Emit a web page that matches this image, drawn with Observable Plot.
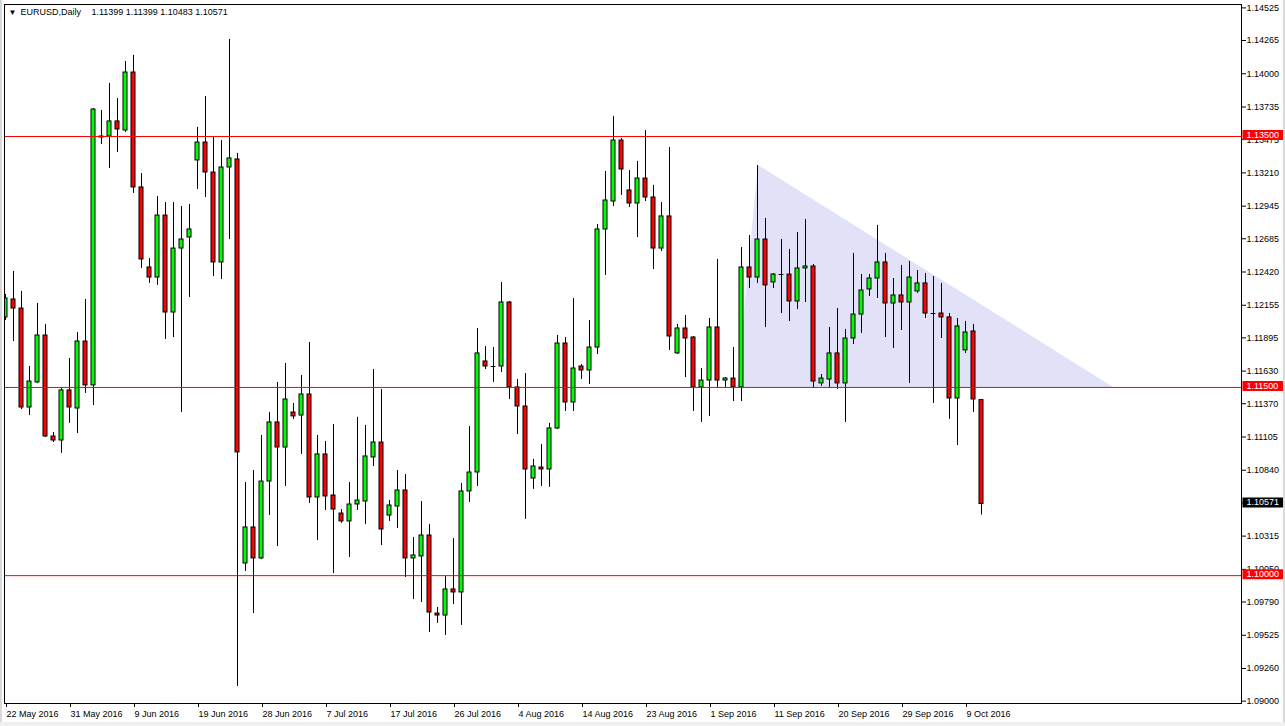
<!DOCTYPE html>
<html><head><meta charset="utf-8">
<script src="https://cdn.jsdelivr.net/npm/d3@7"></script>
<script src="https://cdn.jsdelivr.net/npm/@observablehq/plot@0.6"></script>
<style>
html,body{margin:0;padding:0;background:#fff;}
#wrap{position:relative;width:1285px;height:726px;overflow:hidden;}
.edgeL{position:absolute;left:0;top:0;width:2px;height:726px;background:#d9d9d9;}
.edgeR{position:absolute;right:0;top:0;width:2px;height:726px;background:#d9d9d9;}
.edgeB{position:absolute;left:0;bottom:0;width:1285px;height:4px;background:#f0f0f0;}
</style></head><body><div id="wrap"></div>
<script>
const symbolName = "EURUSD";
const timeframe = "Daily";

// Daily bars, one per trading day (incl. Sunday bars), starting 22 May 2016
const open = [
1.12058,1.12201,1.12129,1.11340,1.11540,1.11914,1.11109,1.11077,1.11476,1.11332,
1.11866,1.11516,1.13492,1.13500,1.13620,1.13548,1.14010,1.13094,1.12456,1.12376,
1.12870,1.12097,1.12607,1.12695,1.13309,1.13452,1.13213,1.12496,1.13253,1.13317,
1.10097,1.10384,1.10137,1.10750,1.11221,1.11021,1.11300,1.11276,1.11444,1.10623,
1.10966,1.10639,1.10495,1.10432,1.10567,1.10591,1.10942,1.11061,1.10479,1.10551,
1.10679,1.10137,1.10153,1.10320,1.09698,1.09682,1.09890,1.09866,1.10671,1.10822,
1.11707,1.11667,1.11667,1.12177,1.11500,1.11348,1.10774,1.10862,1.10846,1.11173,
1.11850,1.11380,1.11667,1.11635,1.11818,1.12759,1.12982,1.13468,1.13070,1.12966,
1.13165,1.13014,1.12607,1.12863,1.11771,1.11970,1.11898,1.11500,1.11555,1.11978,
1.11555,1.11571,1.11500,1.12456,1.12376,1.12679,1.12337,1.12400,1.12400,1.12185,
1.12448,1.12464,1.11532,1.11563,1.11771,1.11532,1.11890,1.12081,1.12281,1.12368,
1.12496,1.12169,1.12233,1.12177,1.12265,1.12329,1.12089,1.12089,1.12058,1.11412,
1.11795,1.11946,1.11399];
const high = [
1.12241,1.12424,1.12265,1.11667,1.12169,1.12002,1.11141,1.11492,1.11731,1.11938,
1.12201,1.13723,1.13707,1.13923,1.13803,1.14098,1.14146,1.13205,1.12528,1.13022,
1.12974,1.12974,1.12942,1.12958,1.13572,1.13819,1.13492,1.13468,1.14273,1.13365,
1.10743,1.10838,1.11117,1.11300,1.11540,1.11691,1.11372,1.11595,1.11858,1.11117,
1.11069,1.11205,1.10527,1.10743,1.11261,1.11197,1.11643,1.11484,1.10599,1.10838,
1.10806,1.10304,1.10591,1.10408,1.09746,1.09993,1.10296,1.10735,1.11189,1.11970,
1.11826,1.11818,1.12337,1.12185,1.11563,1.11611,1.10926,1.11045,1.11213,1.11914,
1.11898,1.12209,1.11683,1.12034,1.12799,1.13221,1.13660,1.13484,1.13229,1.13301,
1.13548,1.13110,1.12974,1.13412,1.12002,1.12073,1.11906,1.11651,1.12050,1.12520,
1.11579,1.11818,1.12615,1.12711,1.13269,1.12847,1.12408,1.12679,1.12600,1.12735,
1.12839,1.12480,1.11603,1.11978,1.12129,1.11962,1.12568,1.12400,1.12400,1.12791,
1.12568,1.12368,1.12472,1.12504,1.12432,1.12408,1.12384,1.12329,1.12089,1.12050,
1.12026,1.12002,1.11399];
const low = [
1.12034,1.11866,1.11324,1.11276,1.11532,1.11101,1.11061,1.10974,1.11213,1.11133,
1.11452,1.11356,1.13436,1.13245,1.13373,1.13532,1.13046,1.12448,1.12329,1.12313,
1.11882,1.11898,1.11300,1.12217,1.13078,1.13014,1.12384,1.12360,1.12679,1.09117,
1.10033,1.09698,1.10129,1.10479,1.10232,1.10711,1.11245,1.10966,1.10575,1.10280,
1.10519,1.10017,1.10416,1.10145,1.10519,1.10408,1.10870,1.10240,1.10432,1.10376,
1.09985,1.09810,1.09786,1.09547,1.09619,1.09523,1.09770,1.09603,1.10583,1.10711,
1.11643,1.11540,1.11619,1.11404,1.11125,1.10448,1.10687,1.10711,1.10703,1.11165,
1.11308,1.11308,1.11563,1.11524,1.11763,1.12392,1.12942,1.13030,1.12934,1.12695,
1.12982,1.12440,1.12584,1.11795,1.11763,1.11579,1.11308,1.11221,1.11269,1.11500,
1.11500,1.11388,1.11388,1.12289,1.12329,1.11978,1.12289,1.12089,1.12026,1.12121,
1.12177,1.11492,1.11508,1.11500,1.11484,1.11221,1.11842,1.11930,1.12225,1.12209,
1.11898,1.11810,1.11954,1.11532,1.12249,1.12050,1.11372,1.11890,1.11245,1.11037,
1.11771,1.11300,1.10483];
const close = [
1.12209,1.12129,1.11340,1.11547,1.11914,1.11109,1.11077,1.11476,1.11340,1.11866,
1.11516,1.13715,1.13500,1.13620,1.13556,1.14010,1.13094,1.12520,1.12376,1.12870,
1.12097,1.12607,1.12679,1.12759,1.13452,1.13213,1.12496,1.13253,1.13325,1.10982,
1.10384,1.10137,1.10750,1.11221,1.11021,1.11404,1.11269,1.11444,1.10623,1.10966,
1.10631,1.10527,1.10432,1.10567,1.10599,1.10950,1.11061,1.10368,1.10559,1.10679,
1.10137,1.10161,1.10320,1.09706,1.09682,1.09890,1.09866,1.10671,1.10822,1.11771,
1.11667,1.11667,1.12177,1.11500,1.11348,1.10846,1.10870,1.10846,1.11173,1.11850,
1.11380,1.11651,1.11635,1.11818,1.12759,1.12990,1.13468,1.13237,1.12966,1.13165,
1.13014,1.12607,1.12863,1.11906,1.11970,1.11890,1.11500,1.11555,1.11978,1.11555,
1.11571,1.11500,1.12456,1.12376,1.12679,1.12313,1.12400,1.12400,1.12185,1.12448,
1.12464,1.11547,1.11571,1.11771,1.11532,1.11890,1.12081,1.12273,1.12368,1.12496,
1.12169,1.12233,1.12177,1.12376,1.12329,1.12089,1.12089,1.12058,1.11412,1.11986,
1.11938,1.11404,1.10571];

// Date axis: bar index -> label
const tickBars = [0,8,16,24,32,40,48,56,64,72,80,88,96,104,112,120];
const tickLabels = ["22 May 2016","31 May 2016","9 Jun 2016","19 Jun 2016","28 Jun 2016",
  "7 Jul 2016","17 Jul 2016","26 Jul 2016","4 Aug 2016","14 Aug 2016","23 Aug 2016",
  "1 Sep 2016","11 Sep 2016","20 Sep 2016","29 Sep 2016","9 Oct 2016"];

// Price axis ticks
const priceTicks = [1.14525,1.14265,1.14000,1.13735,1.13475,1.13210,1.12945,1.12685,1.12420,
  1.12155,1.11895,1.11630,1.11370,1.11105,1.10840,1.10580,1.10315,1.10050,1.09790,1.09525,
  1.09260,1.09000];

// Horizontal levels
const levels = [1.13500, 1.11500, 1.10000];

// Descending triangle (bar index, price)
const triangleBars = [91.5, 94.1, 138.5];
const trianglePrices = [1.11500, 1.13269, 1.11500];
const triangleBase = 1.11500;

const candles = open.map((o, i) => ({i, open: o, high: high[i], low: low[i], close: close[i]}));
const triangle = triangleBars.map((b, k) => ({bar: b, base: triangleBase, top: trianglePrices[k]}));
const fmt = d3.format(".5f");
const last = candles[candles.length - 1];

const boxSymbol = {draw(ctx) { ctx.moveTo(1, -6.5); ctx.lineTo(43, -6.5); ctx.lineTo(43, 3.5); ctx.lineTo(1, 3.5); ctx.closePath(); }};

const chart = Plot.plot({
  width: 1285, height: 726,
  marginLeft: 4, marginRight: 44, marginTop: 4, marginBottom: 23,
  style: {fontFamily: "'Liberation Sans', Arial, sans-serif", fontSize: "9px", background: "white", color: "black", overflow: "visible"},
  x: {type: "linear", domain: [-0.125, 154.5]},
  y: {type: "linear", domain: [1.08981, 1.14552]},
  marks: [
    Plot.area(triangle, {x1: "bar", y1: "base", y2: "top", fill: "#e1e1f8", curve: "linear"}),
    Plot.ruleX(candles, {x: "i", y1: "low", y2: "high", stroke: "black", clip: true}),
    Plot.rect(candles.filter(d => d.open !== d.close), {
      x1: d => d.i - 0.25, x2: d => d.i + 0.25, y1: "open", y2: "close",
      fill: d => d.close > d.open ? "#00ff00" : "#ff0000", stroke: "black", strokeWidth: 1, clip: true}),
    Plot.ruleY(candles.filter(d => d.open === d.close), {y: "open", x1: d => d.i - 0.3, x2: d => d.i + 0.3, stroke: "black", clip: true}),
    Plot.ruleY(levels, {stroke: "#ff0000"}),
    Plot.axisX({ticks: tickBars, tickFormat: d => tickLabels[tickBars.indexOf(d)], tickSize: 4, tickPadding: 3, textAnchor: "start", dx: 1, label: null}),
    Plot.axisY({anchor: "right", ticks: priceTicks, tickFormat: fmt, tickSize: 4, tickPadding: 1, label: null}),
    Plot.dot(levels, {y: d => d, frameAnchor: "right", symbol: boxSymbol, r: 6, fill: "#ff0000", stroke: null}),
    Plot.dot([last.close], {y: d => d, frameAnchor: "right", symbol: boxSymbol, r: 6, fill: "black", stroke: null}),
    Plot.text(levels.concat([last.close]), {y: d => d, frameAnchor: "right", text: fmt, dx: 5, dy: -1.5, textAnchor: "start", fill: "white"}),
    Plot.frame({stroke: "black"}),
    Plot.text(["\u25BC"], {frameAnchor: "top-left", dx: 4, dy: 8, fontSize: 8, textAnchor: "start", lineAnchor: "middle"}),
    Plot.text([symbolName + "," + timeframe], {frameAnchor: "top-left", dx: 16, dy: 8, textAnchor: "start", lineAnchor: "middle"}),
    Plot.text([[last.open, last.high, last.low, last.close].map(fmt).join(" ")], {frameAnchor: "top-left", dx: 87, dy: 8, textAnchor: "start", lineAnchor: "middle"})
  ]
});
const wrap = document.getElementById("wrap");
wrap.appendChild(chart);
["edgeL","edgeR","edgeB"].forEach(c => { const d = document.createElement("div"); d.className = c; wrap.appendChild(d); });
</script>
</body></html>
